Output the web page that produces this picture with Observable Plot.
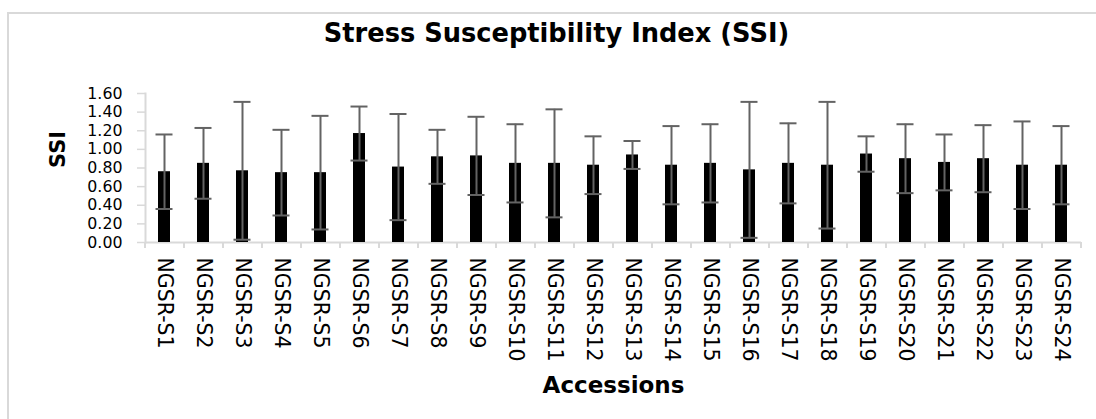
<!DOCTYPE html>
<html><head><meta charset="utf-8">
<script src="https://cdn.jsdelivr.net/npm/d3@7"></script>
<script src="https://cdn.jsdelivr.net/npm/@observablehq/plot@0.6"></script>
<style>
html,body{margin:0;padding:0;background:#fff;}
#wrap{position:relative;width:1096px;height:419px;overflow:hidden;font-family:"DejaVu Sans",sans-serif;}
#border{position:absolute;left:7px;top:12px;width:1200px;height:600px;border-left:2px solid #d9d9d9;border-top:2px solid #d9d9d9;}
#title{position:absolute;left:0;top:18px;width:1113px;text-align:center;font-weight:bold;font-size:25.7px;line-height:30px;color:#000;}
#chart{position:absolute;left:0;top:0;}
</style>
</head><body>
<div id="wrap"><div id="border"></div><div id="title">Stress Susceptibility Index (SSI)</div><div id="chart"></div></div>
<script>
const accessions = ["NGSR-S1","NGSR-S2","NGSR-S3","NGSR-S4","NGSR-S5","NGSR-S6","NGSR-S7","NGSR-S8","NGSR-S9","NGSR-S10","NGSR-S11","NGSR-S12","NGSR-S13","NGSR-S14","NGSR-S15","NGSR-S16","NGSR-S17","NGSR-S18","NGSR-S19","NGSR-S20","NGSR-S21","NGSR-S22","NGSR-S23","NGSR-S24"];
const ssi = [0.76,0.85,0.77,0.75,0.75,1.17,0.81,0.92,0.93,0.85,0.85,0.83,0.94,0.83,0.85,0.78,0.85,0.83,0.95,0.90,0.86,0.90,0.83,0.83];
const err = [0.40,0.38,0.74,0.46,0.61,0.29,0.57,0.29,0.42,0.42,0.58,0.31,0.15,0.42,0.42,0.73,0.43,0.68,0.19,0.37,0.30,0.36,0.47,0.42];
const yTicks = [0,0.2,0.4,0.6,0.8,1.0,1.2,1.4,1.6];

const data = accessions.map((name,i)=>({name, ssi: ssi[i], err: err[i]}));

const W=1096, H=419, mL=145, mR=15, mT=93, mB=177;
const step = (W-mL-mR)/accessions.length;
const axisGray = "#d9d9d9", errGray = "#636363";

const chart = Plot.plot({
  width: W, height: H,
  marginLeft: mL, marginRight: mR, marginTop: mT, marginBottom: mB,
  style: {fontFamily: "DejaVu Sans, sans-serif", fontSize: "16px", color: "#000", background: "transparent", overflow: "visible"},
  x: {domain: accessions, paddingInner: 0.69, paddingOuter: 0.345, label: null},
  y: {domain: [0, 1.6], label: null},
  marks: [
    Plot.axisY({ticks: yTicks, tickFormat: d3.format(".2f"), tickSize: 8, tickPadding: 15, stroke: axisGray, strokeWidth: 1.5, fill: "#000", fontSize: 15.8, label: null}),
    Plot.frame({anchor: "left", stroke: axisGray, strokeWidth: 2}),
    Plot.ruleY([0], {stroke: axisGray, strokeWidth: 2}),
    Plot.ruleX(accessions, {x: d => d, dx: -step/2, y1: 0, y2: 0, insetBottom: -6, stroke: axisGray, strokeWidth: 2}),
    Plot.ruleX(accessions.slice(-1), {x: d => d, dx: step/2, y1: 0, y2: 0, insetBottom: -6, stroke: axisGray, strokeWidth: 2}),
    Plot.axisX({tickSize: 0, tickRotate: 90, tickPadding: 15, fontSize: 20.5, fill: "#000", label: null}),
    Plot.barY(data, {x: "name", y: "ssi", fill: "#000"}),
    Plot.ruleX(data, {x: "name", y1: d => d.ssi - d.err, y2: d => d.ssi + d.err, stroke: errGray, strokeWidth: 2}),
    Plot.tickY(data, {x: "name", y: d => d.ssi - d.err, insetLeft: 14.5, insetRight: 14.5, stroke: errGray, strokeWidth: 2}),
    Plot.tickY(data, {x: "name", y: d => d.ssi + d.err, insetLeft: 14.5, insetRight: 14.5, stroke: errGray, strokeWidth: 2}),
    Plot.text(["SSI"], {text: d => d, frameAnchor: "left", dx: -87.5, rotate: -90, lineAnchor: "middle", fontWeight: "bold", fontSize: 21, fill: "#000"}),
    Plot.text(["Accessions"], {text: d => d, frameAnchor: "bottom", dy: 143, lineAnchor: "middle", fontWeight: "bold", fontSize: 23, fill: "#000"})
  ]
});
document.getElementById("chart").appendChild(chart);
</script>
</body></html>
